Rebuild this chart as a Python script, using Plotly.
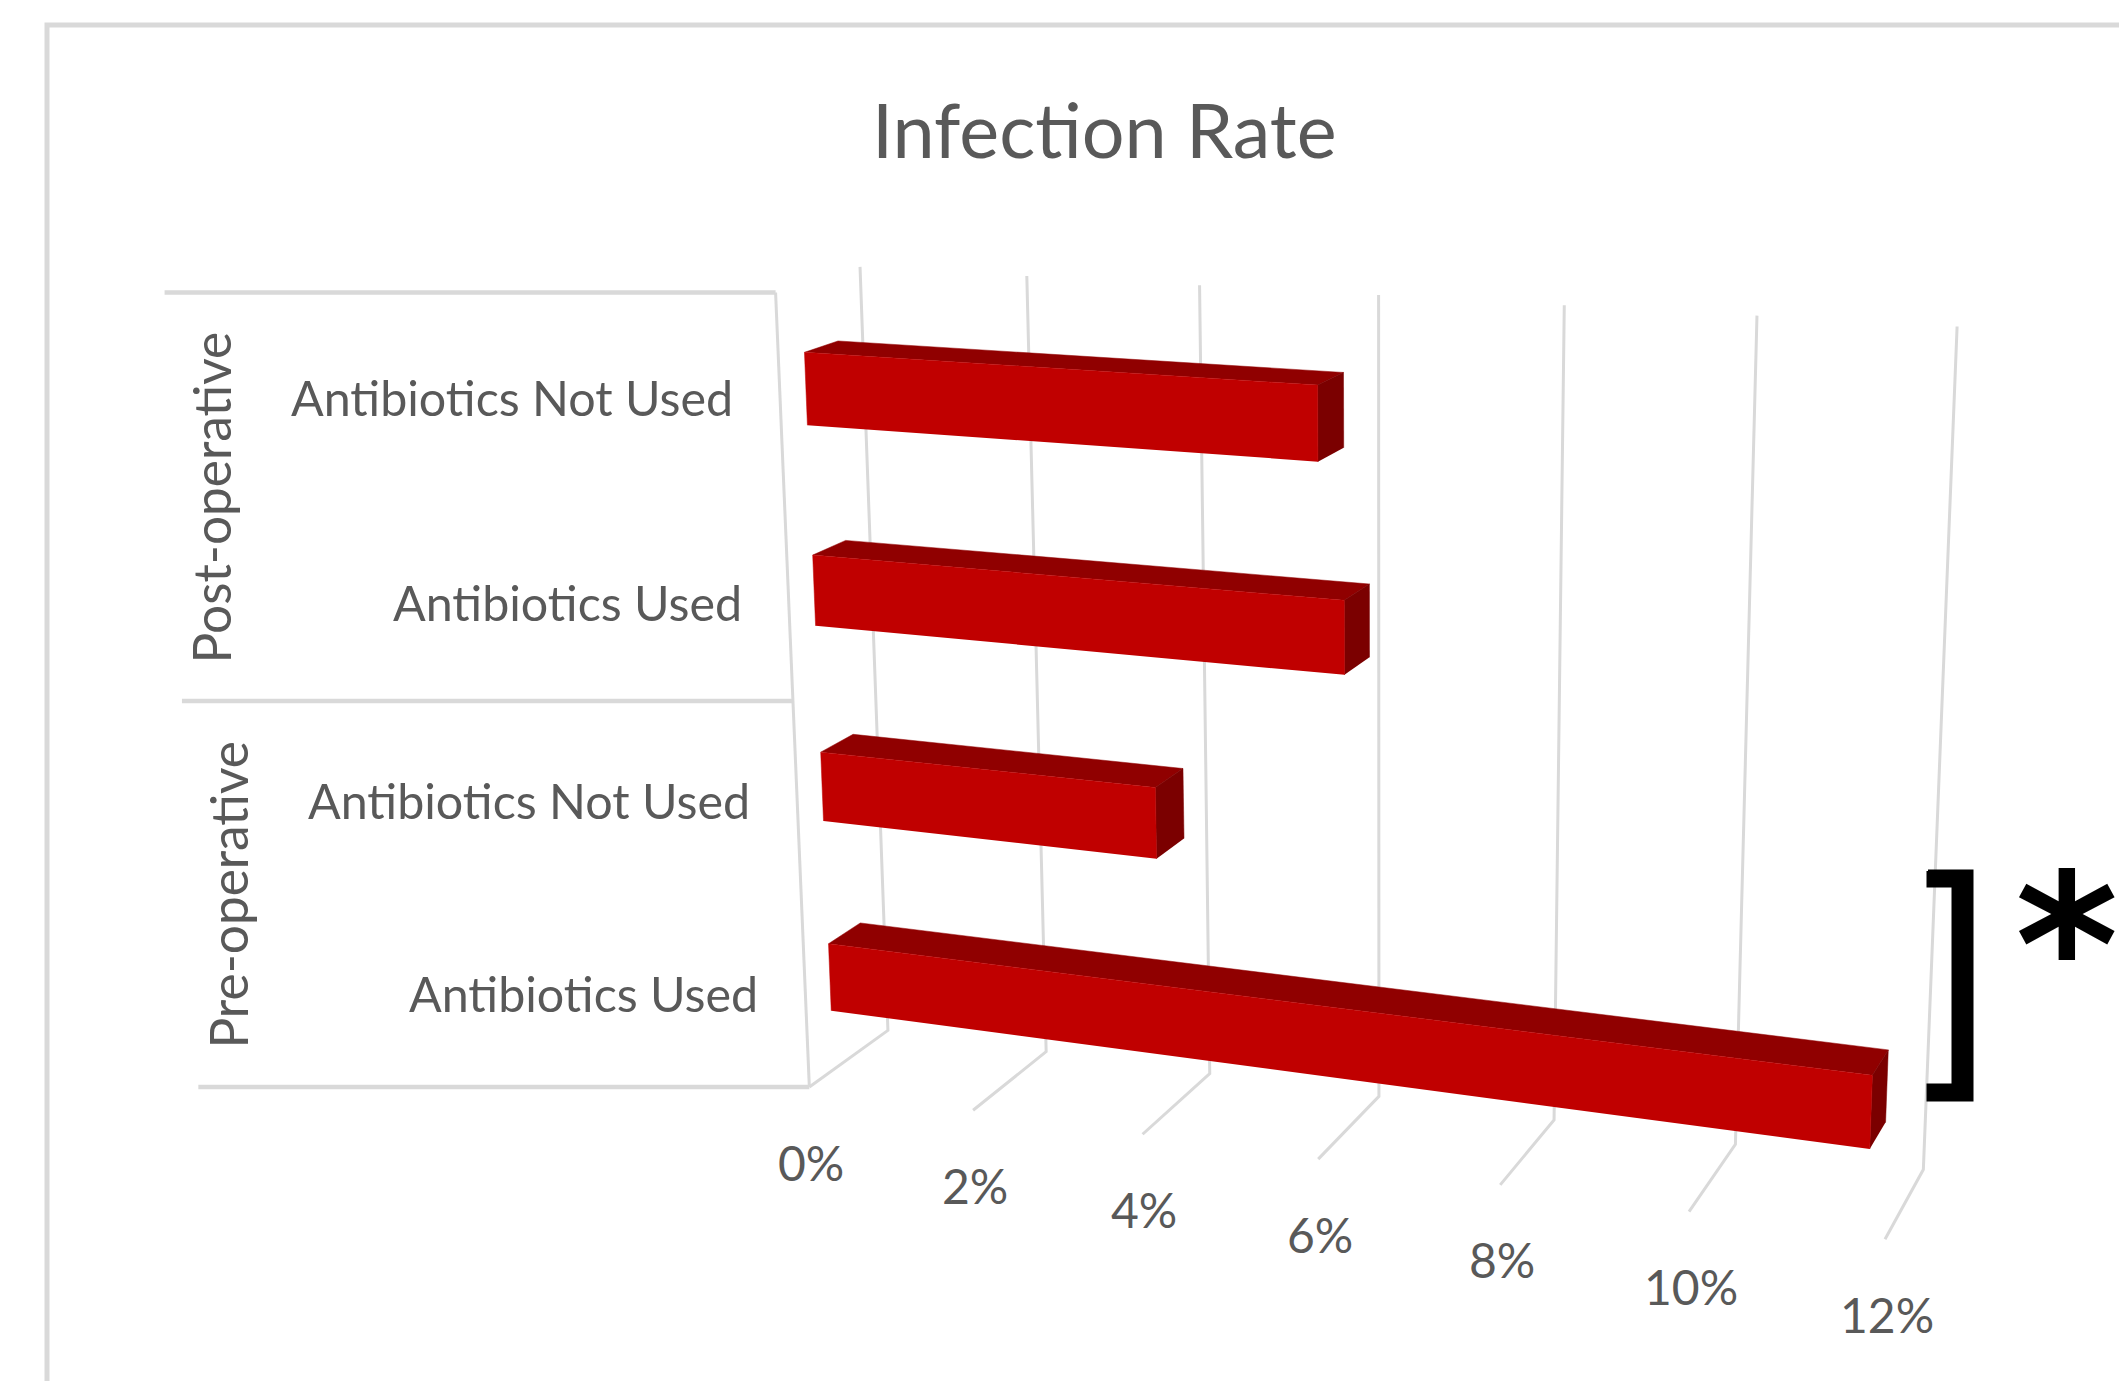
import numpy as np
import plotly.graph_objects as go

# Chart content
title = "Infection Rate"
groups = ["Post-operative", "Pre-operative"]
categories = ["Antibiotics Not Used", "Antibiotics Used", "Antibiotics Not Used", "Antibiotics Used"]
infection_rate = [5.82, 6.1, 3.97, 11.7]
axis_ticks = [0, 2, 4, 6, 8, 10, 12]
tick_labels = ["0%", "2%", "4%", "6%", "8%", "10%", "12%"]

# Box layout in model space: rate along x, depth 0-1 (front to back), height 0-1
BAR_DEPTH = (0.30, 0.70)
BAR_HALF = 0.0445
BAR_SHIFT = -0.0015
AXIS_MAX = 12.0

# Camera calibration: model point (rate, depth, height) -> page pixel
camera_pairs = [
    ((0, 1, 0), (888, 1031)), ((2, 1, 0), (1046, 1053)), ((4, 1, 0), (1209, 1074)),
    ((6, 1, 0), (1380, 1095)), ((8, 1, 0), (1554, 1118)), ((10, 1, 0), (1737, 1143)),
    ((12, 1, 0), (1923, 1170)),
    ((0, 1, 1), (859, 266)), ((2, 1, 1), (1026, 277)), ((4, 1, 1), (1200, 286)),
    ((6, 1, 1), (1378, 296)), ((8, 1, 1), (1565, 305)), ((10, 1, 1), (1757, 316)),
    ((12, 1, 1), (1957, 326)),
    ((0, 0, 0), (811, 1085)), ((2, 0, 0), (972, 1112)), ((4, 0, 0), (1142, 1134)),
    ((6, 0, 0), (1318, 1159)), ((8, 0, 0), (1499, 1187)), ((10, 0, 0), (1689, 1212)),
    ((12, 0, 0), (1885, 1239)),
    ((0, 0, 1), (777, 291)),
]


def fit_camera(pairs):
    rows = []
    for (r, d, h), (px, py) in pairs:
        X = [r / AXIS_MAX, d, h, 1.0]
        u, v = px / 1000.0, py / 1000.0
        rows.append(X + [0, 0, 0, 0] + [-u * c for c in X])
        rows.append([0, 0, 0, 0] + X + [-v * c for c in X])
    _, _, vt = np.linalg.svd(np.array(rows))
    return vt[-1].reshape(3, 4)


CAMERA = fit_camera(camera_pairs)


def project(rate, depth, height):
    p = CAMERA @ np.array([rate / AXIS_MAX, depth, height, 1.0])
    return 1000.0 * p[0] / p[2], 1000.0 * p[1] / p[2]


def path(points):
    xy = [project(*q) for q in points]
    return [a for a, _ in xy], [b for _, b in xy]


GRID = "#D9D9D9"
TEXT = "#595959"
FRONT, TOP, SIDE = "#C00000", "#900000", "#7B0000"

fig = go.Figure()


def add_line(xs, ys, color=GRID, width=3):
    fig.add_trace(go.Scatter(x=xs, y=ys, mode="lines", hoverinfo="skip",
                             line=dict(color=color, width=width)))


def add_face(points, color):
    xs, ys = path(points)
    fig.add_trace(go.Scatter(x=xs, y=ys, mode="lines", fill="toself", fillcolor=color,
                             hoverinfo="skip", line=dict(color=color, width=0.5)))


# Outer chart frame, running off the right and bottom of the page
add_line([47, 47, 2119], [1381, 25, 25], width=5)

# Gridlines: up the back wall, then forward across the floor
for t in axis_ticks:
    xs, ys = path([(t, 1, 1), (t, 1, 0), (t, 0, 0)])
    add_line(xs, ys)

# Side wall edge and the multi-level category dividers
xs, ys = path([(0, 0, 1), (0, 0, 0)])
add_line(xs, ys)
for h in (1.0, 0.5, 0.0):
    x0, y0 = project(0, 0, h)
    add_line([x0 - 611, x0], [y0, y0], width=4.5)

# One box per category; the first entry sits at the top of the stack
n = len(categories)
for i, value in enumerate(infection_rate):
    centre = 1 - (i + 0.5) / n
    lo, hi = centre + BAR_SHIFT - BAR_HALF, centre + BAR_SHIFT + BAR_HALF
    d0, d1 = BAR_DEPTH
    add_face([(0, d0, hi), (0, d1, hi), (value, d1, hi), (value, d0, hi)], TOP)
    add_face([(value, d0, lo), (value, d0, hi), (value, d1, hi), (value, d1, lo)], SIDE)
    add_face([(0, d0, lo), (0, d0, hi), (value, d0, hi), (value, d0, lo)], FRONT)

    wx, wy = project(0, 0, centre)
    fig.add_annotation(x=wx - 45, y=wy + 0.5, text=categories[i], showarrow=False,
                       xanchor="right", yanchor="middle",
                       font=dict(family="Lato", size=48.4, color=TEXT))

for t, label in zip(axis_ticks, tick_labels):
    x0, y0 = project(t, 0, 0)
    fig.add_annotation(x=x0 + 1.5, y=y0 + 75, text=label, showarrow=False,
                       font=dict(family="Lato", size=48, color=TEXT))

fig.add_annotation(x=210.5, y=498, text=groups[0], textangle=-90, showarrow=False,
                   font=dict(family="Lato", size=51.4, color=TEXT))
fig.add_annotation(x=227.5, y=895, text=groups[1], textangle=-90, showarrow=False,
                   font=dict(family="Lato", size=51.4, color=TEXT))
fig.add_annotation(x=1104, y=128.5, text=title, showarrow=False,
                   font=dict(family="Lato", size=75.5, color=TEXT))

# Significance bracket and star beside the pre-operative antibiotics bar
fig.add_trace(go.Scatter(
    x=[1928, 1972, 1972, 1928, 1928, 1953, 1953, 1928, 1928],
    y=[871, 871, 1100, 1100, 1085, 1085, 886, 886, 871],
    mode="lines", fill="toself", fillcolor="#000000", hoverinfo="skip",
    line=dict(color="#000000", width=3),
))
fig.add_annotation(x=2067, y=946, text="<b>*</b>", showarrow=False,
                   font=dict(family="DejaVu Sans", size=198, color="#000000"))

fig.update_layout(
    width=2119, height=1381, margin=dict(l=0, r=0, t=0, b=0),
    paper_bgcolor="white", plot_bgcolor="white", showlegend=False,
    xaxis=dict(range=[0, 2119], visible=False, fixedrange=True),
    yaxis=dict(range=[1381, 0], visible=False, fixedrange=True),
)

fig.write_html("out.html")
